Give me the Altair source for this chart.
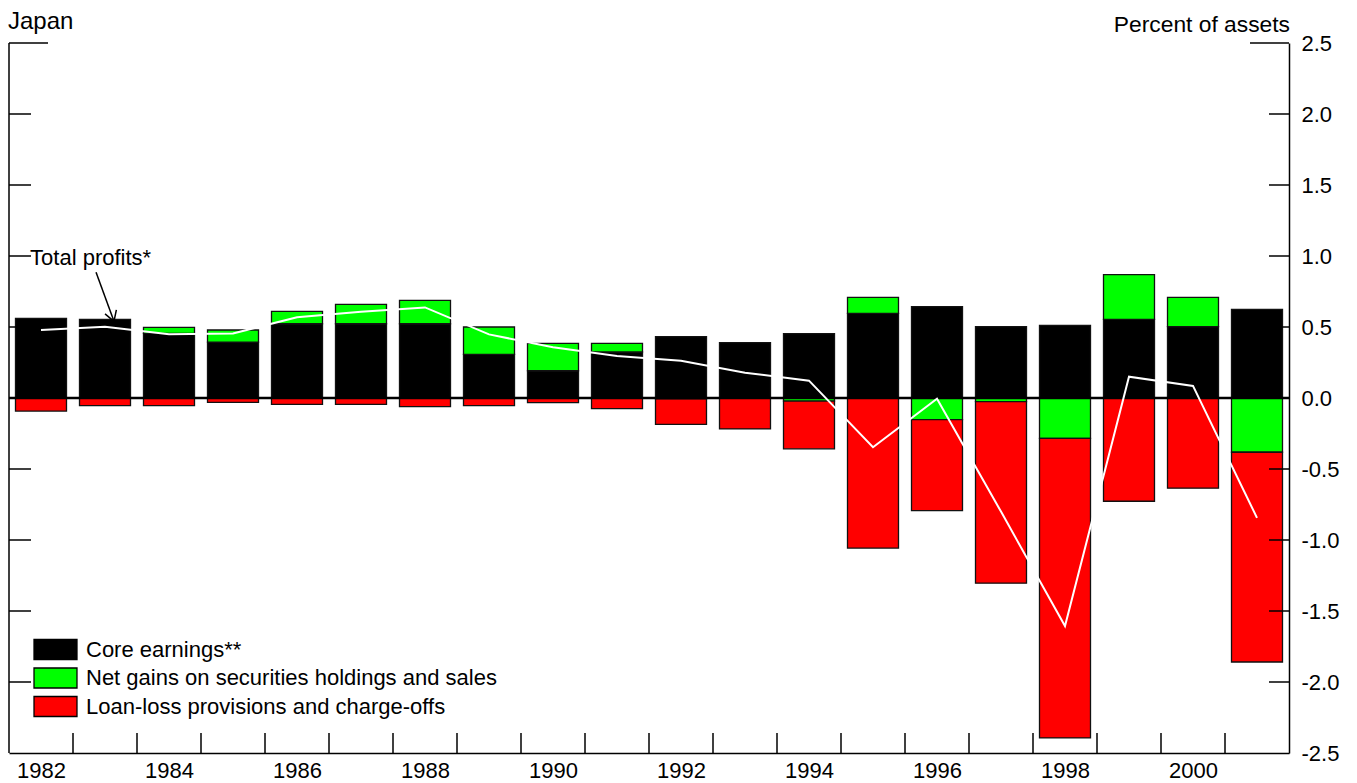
import altair as alt
import pandas as pd

# ---------------- data ----------------
years = list(range(1982, 2002))
core = [0.561, 0.554, 0.455, 0.394, 0.523, 0.523, 0.523, 0.307, 0.192, 0.324,
        0.432, 0.390, 0.453, 0.596, 0.643, 0.502, 0.512, 0.554, 0.502, 0.624]
gains = [0.0, 0.0, 0.043, 0.085, 0.087, 0.137, 0.165, 0.193, 0.193, 0.061,
         -0.006, 0.0, -0.022, 0.113, -0.152, -0.026, -0.284, 0.315, 0.207, -0.382]
losses = [-0.092, -0.054, -0.054, -0.031, -0.045, -0.045, -0.061, -0.054, -0.033, -0.075,
          -0.180, -0.218, -0.336, -1.057, -0.641, -1.278, -2.110, -0.727, -0.635, -1.477]
total = [0.479, 0.502, 0.449, 0.455, 0.568, 0.608, 0.638, 0.448, 0.357, 0.296,
         0.263, 0.178, 0.122, -0.347, -0.005, -0.800, -1.606, 0.150, 0.085, -0.844]

series_names = ["Core earnings**",
                "Net gains on securities holdings and sales",
                "Loan-loss provisions and charge-offs"]
series_colors = ["#000000", "#00ff00", "#ff0000"]

year_labels = [1982, 1984, 1986, 1988, 1990, 1992, 1994, 1996, 1998, 2000]
year_bounds = [1982.5, 1983.5, 1984.5, 1985.5, 1986.5, 1987.5, 1988.5, 1989.5, 1990.5,
               1991.5, 1992.5, 1993.5, 1994.5, 1995.5, 1996.5, 1997.5, 1998.5, 1999.5, 2000.5]
y_values = [-2.5, -2.0, -1.5, -1.0, -0.5, 0.0, 0.5, 1.0, 1.5, 2.0, 2.5]
y_ticks = [-2.0, -1.5, -1.0, -0.5, 0.5, 1.0, 1.5, 2.0]
y_ticks_long = [2.5]

# annotation "Total profits*" (data coordinates)
ann_text = ["Total profits*"]
ann_x, ann_y = [1981.83], [0.935]
arrow_x, arrow_y, arrow_x2, arrow_y2 = [1982.86], [0.885], [1983.14], [0.54]

# ---------------- tables ----------------
rows = []
for i, yr in enumerate(years):
    for k, vals in enumerate([core, gains, losses]):
        if vals[i] != 0:
            rows.append({"year": yr, "series": series_names[k], "value": vals[i], "k": k})
df = pd.DataFrame(rows)
df_total = pd.DataFrame({"year": years, "total": total})

W, H = 1280, 710
FONT = "Liberation Sans"
x_scale = alt.Scale(domain=[1981.5, 2001.5], nice=False, zero=False, padding=0)
y_scale = alt.Scale(domain=[-2.5, 2.5], nice=False, zero=False, padding=0)

bars = alt.Chart(df).mark_bar(size=51, stroke="#111111", strokeWidth=1.3).encode(
    x=alt.X("year:Q", scale=x_scale, title=None,
            axis=alt.Axis(values=year_labels, format="d", ticks=False, grid=False,
                          labelFontSize=22, labelFont=FONT, labelColor="black",
                          labelPadding=7, labelOverlap=False, labelFlush=False,
                          domainColor="black", domainWidth=1.5)),
    y=alt.Y("value:Q", stack="zero", scale=y_scale, title=None,
            axis=alt.Axis(orient="right", values=y_values, ticks=False, grid=False,
                          labelExpr="(datum.value < 0 ? '-' : '') + format(abs(datum.value), '.1f')",
                          labelFontSize=22, labelFont=FONT, labelColor="black",
                          labelPadding=12, labelOverlap=False, labelFlush=False,
                          domainColor="black", domainWidth=1.5)),
    color=alt.Color("series:N", scale=alt.Scale(domain=series_names, range=series_colors),
                    legend=alt.Legend(orient="none", legendX=35, legendY=595, title=None,
                                      symbolType="M-2,-0.93H2V0.93H-2Z", symbolSize=462,
                                      symbolStrokeColor="black", symbolStrokeWidth=1.3,
                                      symbolOpacity=1, labelFontSize=22, labelFont=FONT,
                                      labelColor="black", labelOffset=19, rowPadding=1.5,
                                      padding=0, labelLimit=0)),
    order=alt.Order("k:Q", sort="ascending"),
)

one = pd.DataFrame({"a": [0]})

zero_line = alt.Chart(one).mark_rule(color="black", strokeWidth=2.5).encode(
    y=alt.datum(0, scale=y_scale), x=alt.value(0), x2=alt.value(W))

left_axis = alt.Chart(one).mark_rule(color="black", strokeWidth=1.5).encode(
    x=alt.value(0), y=alt.value(0), y2=alt.value(H))

line = alt.Chart(df_total).mark_line(color="white", strokeWidth=2).encode(
    x=alt.X("year:Q", scale=x_scale, title=None),
    y=alt.Y("total:Q", scale=y_scale, title=None))

df_yt = pd.DataFrame({"v": y_ticks})
df_ytl = pd.DataFrame({"v": y_ticks_long})
left_ticks = alt.Chart(df_yt).mark_rule(color="black", strokeWidth=1.5).encode(
    y=alt.Y("v:Q", scale=y_scale, title=None), x=alt.value(0), x2=alt.value(22))
right_ticks = alt.Chart(df_yt).mark_rule(color="black", strokeWidth=1.5).encode(
    y=alt.Y("v:Q", scale=y_scale, title=None), x=alt.value(W - 20), x2=alt.value(W))
left_ticks_long = alt.Chart(df_ytl).mark_rule(color="black", strokeWidth=1.5).encode(
    y=alt.Y("v:Q", scale=y_scale, title=None), x=alt.value(0), x2=alt.value(39))
right_ticks_long = alt.Chart(df_ytl).mark_rule(color="black", strokeWidth=1.5).encode(
    y=alt.Y("v:Q", scale=y_scale, title=None), x=alt.value(W - 39), x2=alt.value(W))

df_xb = pd.DataFrame({"b": year_bounds})
bottom_ticks = alt.Chart(df_xb).mark_rule(color="black", strokeWidth=1.5).encode(
    x=alt.X("b:Q", scale=x_scale, title=None), y=alt.value(H - 20), y2=alt.value(H))

df_ann = pd.DataFrame({"t": ann_text, "x": ann_x, "y": ann_y})
ann = alt.Chart(df_ann).mark_text(align="left", baseline="alphabetic", fontSize=22,
                                  font=FONT, color="black").encode(
    x=alt.X("x:Q", scale=x_scale, title=None),
    y=alt.Y("y:Q", scale=y_scale, title=None), text="t:N")

df_arrow = pd.DataFrame({"x": arrow_x, "y": arrow_y, "x2": arrow_x2, "y2": arrow_y2})
shaft = alt.Chart(df_arrow).mark_rule(color="black", strokeWidth=1.5).encode(
    x=alt.X("x:Q", scale=x_scale, title=None), y=alt.Y("y:Q", scale=y_scale, title=None),
    x2="x2:Q", y2="y2:Q")
head = alt.Chart(df_arrow).mark_point(shape="M-0.6,-1L0,0L0.6,-1", filled=False,
                                      color="black", strokeWidth=1.5, size=400,
                                      angle=341, opacity=1).encode(
    x=alt.X("x2:Q", scale=x_scale, title=None), y=alt.Y("y2:Q", scale=y_scale, title=None))

title_left = alt.Chart(pd.DataFrame({"t": ["Japan"]})).mark_text(
    align="left", baseline="alphabetic", fontSize=24, font=FONT, color="black").encode(
    text="t:N", x=alt.value(-1), y=alt.value(-14))
title_right = alt.Chart(pd.DataFrame({"t": ["Percent of assets"]})).mark_text(
    align="right", baseline="alphabetic", fontSize=22.8, font=FONT, color="black").encode(
    text="t:N", x=alt.value(W + 1), y=alt.value(-11))

chart = alt.layer(
    bars, zero_line, line, left_axis, left_ticks, right_ticks, left_ticks_long,
    right_ticks_long, bottom_ticks, ann, shaft, head, title_left, title_right
).properties(
    width=W, height=H,
    autosize=alt.AutoSizeParams(type="none"),
    padding={"left": 1, "top": 35, "right": 60, "bottom": 30},
    background="white",
).configure(font=FONT, view=alt.ViewConfig(stroke=None))

chart.save("out.html", embed_options={"renderer": "svg", "actions": False})
